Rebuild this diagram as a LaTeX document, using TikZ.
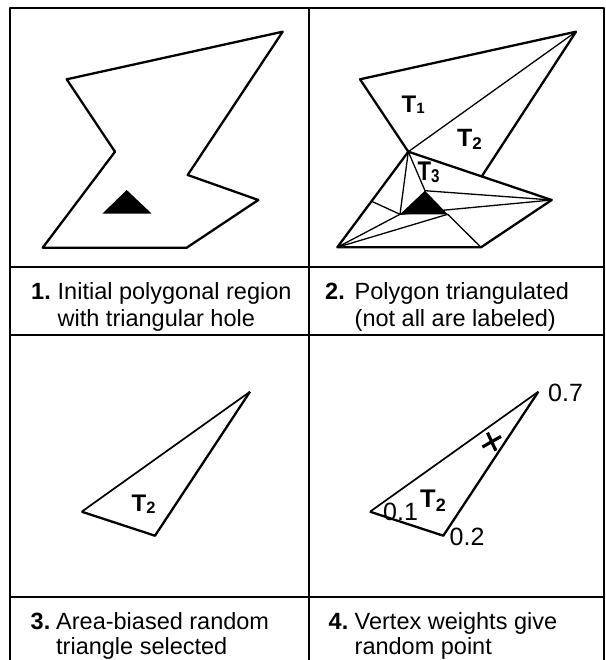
\documentclass[tikz,border=0pt]{standalone}
\usepackage{fontspec}
\usetikzlibrary{calc}
\setmainfont{Liberation Sans}
\begin{document}
\begin{tikzpicture}[x=1pt,y=-1pt,line join=round,
  frame/.style={line width=2pt},
  outline/.style={line width=2.3pt},
  thinline/.style={line width=1.3pt},
  midline/.style={line width=1.7pt},
  captext/.style={font=\fontsize{23.5}{26}\selectfont, anchor=base west, inner sep=0pt},
  capnum/.style={font=\bfseries\fontsize{23.5}{26}\selectfont, anchor=base west, inner sep=0pt},
  weight/.style={font=\fontsize{25}{25}\selectfont, anchor=base west, inner sep=0pt},
  tlab/.style={anchor=base west, inner sep=0pt}]
\useasboundingbox (0,0) rectangle (605,660);
\fill[white] (0,0) rectangle (605,660);

% ---- frame ----
\coordinate (f1) at (10,660);
\coordinate (f2) at (10,8);
\coordinate (f3) at (603.5,8);
\coordinate (f4) at (603.5,660);
\coordinate (m1) at (308.5,8);
\coordinate (m2) at (308.5,660);
\coordinate (h1l) at (10,267);   \coordinate (h1r) at (603.5,267);
\coordinate (h2l) at (10,335);   \coordinate (h2r) at (603.5,335);
\coordinate (h3l) at (10,597);   \coordinate (h3r) at (603.5,597);
\draw[frame] (f1) -- (f2) -- (f3) -- (f4);
\draw[frame] (m1) -- (m2);
\draw[frame] (h1l) -- (h1r);
\draw[frame] (h2l) -- (h2r);
\draw[frame] (h3l) -- (h3r);

% ---- panel 1 ----
\coordinate (a1) at (66.7,79.3);
\coordinate (a2) at (282.7,31.7);
\coordinate (a3) at (187.7,175);
\coordinate (a4) at (258.3,200);
\coordinate (a5) at (186.7,247.7);
\coordinate (a6) at (42.7,247.7);
\coordinate (a7) at (115,151.7);
\draw[outline] (a1) -- (a2) -- (a3) -- (a4) -- (a5) -- (a6) -- (a7) -- cycle;
\coordinate (ha) at (126.7,190);
\coordinate (hb) at (102.3,213.7);
\coordinate (hc) at (151.7,213.7);
\fill (ha) -- (hb) -- (hc) -- cycle;

% ---- panel 2 ----
\coordinate (b1) at (360,79.3);
\coordinate (b2) at (576,31.7);
\coordinate (b7) at (408.3,151.7);
\coordinate (b4) at (551.7,200);
\coordinate (b3) at ($(b7)!0.512!(b4)$);
\coordinate (b5) at (481,247.3);
\coordinate (b6) at (337.3,247.3);
\coordinate (b8) at (371.7,201.3);
\coordinate (k1) at (425,190.7);
\coordinate (k2) at (400,214.3);
\coordinate (k3) at (447.7,214.3);
\fill (k1) -- (k2) -- (k3) -- cycle;
\draw[thinline] (b7) -- (b2);
\draw[thinline] (b7) -- (k1);
\draw[thinline] (b7) -- (k2);
\draw[thinline] (b8) -- (k2);
\draw[thinline] (b6) -- (k2);
\draw[thinline] (b6) -- (k3);
\draw[thinline] (k2) -- (b4);
\draw[thinline] (k1) -- (b4);
\draw[thinline] (k3) -- (b5);
\draw[outline] (b7) -- (b3);
\draw[outline] (b1) -- (b2) -- (b3) -- (b4) -- (b5) -- (b6) -- (b7) -- cycle;
\node[tlab, font=\bfseries\fontsize{24}{24}\selectfont] (t1) at (401.5,113)
  {T\raisebox{-1pt}{\fontsize{15}{15}\selectfont 1}};
\node[tlab, font=\bfseries\fontsize{25}{25}\selectfont] (t2) at (457,147)
  {T\raisebox{-2.5pt}{\fontsize{17}{17}\selectfont 2}};
\node[tlab, font=\bfseries\fontsize{27}{27}\selectfont] (t3) at (417.5,180.5)
  {\scalebox{0.82}[1]{T\raisebox{-2.5pt}{\fontsize{18.5}{18.5}\selectfont 3}}};

% ---- panel 3 ----
\coordinate (c1) at (250,391.7);
\coordinate (c2) at (81.7,511.7);
\coordinate (c3) at (155,535.7);
\draw[midline] (c2) -- (c1);
\draw[outline] (c1) -- (c3) -- (c2);
\node[tlab, font=\bfseries\fontsize{24}{24}\selectfont] (t2c) at (131.5,511)
  {T\raisebox{-2pt}{\fontsize{16.5}{16.5}\selectfont 2}};

% ---- panel 4 ----
\coordinate (d1) at (538.3,391.7);
\coordinate (d2) at (370,511.7);
\coordinate (d3) at (443.3,535.7);
\draw[midline] (d2) -- (d1);
\draw[outline] (d1) -- (d3) -- (d2);
\node[tlab, font=\bfseries\fontsize{25.5}{25.5}\selectfont] (t2d) at (420,507.3)
  {T\raisebox{-4pt}{\fontsize{18}{18}\selectfont 2}};
\coordinate (x0) at (491.7,441.7);
\draw[line width=3.2pt] ($(x0)+(-9.3,5.3)$) -- ($(x0)+(9.3,-5.3)$);
\draw[line width=3.2pt] ($(x0)+(-4.2,-9)$) -- ($(x0)+(4.2,9)$);
\node[weight] (w7) at (548,401.7) {0.7};
\node[weight] (w1) at (383,520) {0.1};
\node[weight] (w2) at (449.5,545) {0.2};

% ---- captions ----
\node[capnum] (n1) at (31,299.7) {1.};
\node[captext] (c1a) at (57.5,299.7) {Initial polygonal region};
\node[captext] (c1b) at (57.5,326.3) {with triangular hole};
\node[capnum] (n2) at (325,299.7) {2.};
\node[captext] (c2a) at (354.5,299.7) {Polygon triangulated};
\node[captext] (c2b) at (354.5,326.3) {(not all are labeled)};
\node[capnum] (n3) at (30.5,629) {3.};
\node[captext] (c3a) at (56,629) {Area-biased random};
\node[captext] (c3b) at (56,654.5) {triangle selected};
\node[capnum] (n4) at (328.5,629) {4.};
\node[captext] (c4a) at (354.5,629) {Vertex weights give};
\node[captext] (c4b) at (354.5,654.5) {random point};
\end{tikzpicture}
\end{document}
